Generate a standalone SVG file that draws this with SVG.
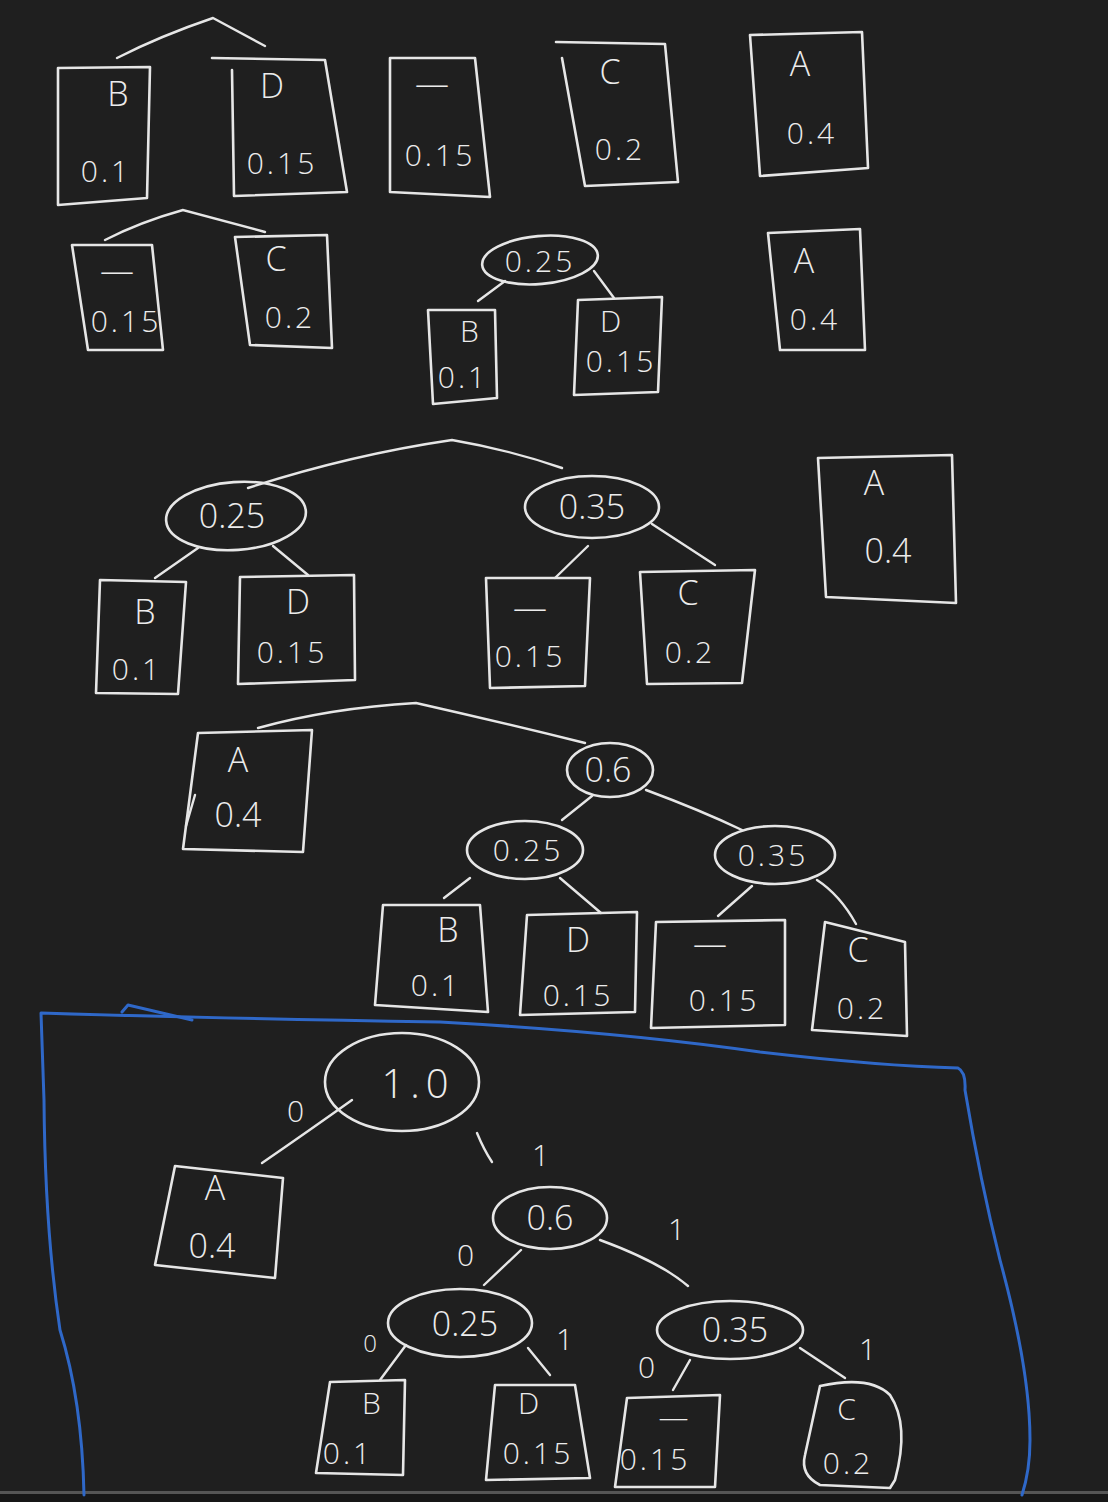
<svg xmlns="http://www.w3.org/2000/svg" width="1108" height="1502" viewBox="0 0 1108 1502">
<style>
.n{fill:none;stroke:#e6e6e6;stroke-width:2.6;stroke-linejoin:round;stroke-linecap:round}
.e{fill:none;stroke:#e6e6e6;stroke-width:2.4;stroke-linecap:round}
.t{fill:#ececec;font-family:"Open Sans","Liberation Sans",sans-serif;font-weight:300;font-size:34px;text-anchor:middle}
.s{font-size:30px;letter-spacing:3px}
.b{fill:none;stroke:#2f68c8;stroke-width:3;stroke-linecap:round;stroke-linejoin:round}
</style>
<rect width="1108" height="1502" fill="#1f1f1f"/>
<rect y="1491" width="1108" height="3" fill="#555"/>
<rect y="1494" width="1108" height="8" fill="#171717"/>

<g id="connectors">
<path class="e" d="M117 58 Q160 36 213 18 L265 46"/>
<path class="e" d="M105 240 Q140 222 183 210 L265 232"/>
<path class="e" d="M478 301 L505 281"/>
<path class="e" d="M594 271 L614 298"/>
<path class="e" d="M248 488 Q350 455 452 440 Q510 450 562 468"/>
<path class="e" d="M155 578 L198 548"/>
<path class="e" d="M273 546 L308 575"/>
<path class="e" d="M555 578 L588 546"/>
<path class="e" d="M652 524 L715 565"/>
<path class="e" d="M258 728 Q330 708 416 703 Q500 722 585 743"/>
<path class="e" d="M592 796 L562 820"/>
<path class="e" d="M646 790 Q700 810 742 830"/>
<path class="e" d="M470 878 L444 898"/>
<path class="e" d="M560 878 L601 913"/>
<path class="e" d="M752 886 L718 916"/>
<path class="e" d="M817 880 Q840 895 856 924"/>
<path class="e" d="M352 1100 Q310 1130 262 1163"/>
<path class="e" d="M477 1133 Q484 1150 492 1162"/>
<path class="e" d="M521 1250 L484 1285"/>
<path class="e" d="M600 1240 Q660 1262 688 1286"/>
<path class="e" d="M406 1345 L380 1380"/>
<path class="e" d="M528 1348 L550 1375"/>
<path class="e" d="M690 1360 L673 1390"/>
<path class="e" d="M800 1348 L845 1378"/>
</g>

<g id="blue-frame">
<path class="b" d="M84 1495 Q82 1400 60 1330 Q45 1230 44 1100 L41 1013 Q200 1018 440 1022 Q620 1032 760 1052 Q880 1066 958 1068 Q966 1072 965 1090 Q980 1180 1000 1260 Q1030 1370 1030 1440 Q1030 1470 1022 1495"/>
<path class="b" d="M122 1012 L128 1005 L192 1020"/>
</g>

<g id="row1-B"><path class="n" d="M58 68 L150 67 L147 198 L58 205 Z"/><text class="t" x="118" y="106">B</text><text class="t s" x="106" y="182">0.1</text></g>
<g id="row1-D"><path class="n" d="M212 58 L325 60 L347 192 L234 196 L232 70"/><text class="t" x="272" y="98">D</text><text class="t s" x="282" y="174">0.15</text></g>
<g id="row1-_"><path class="n" d="M390 58 L475 58 L490 197 L390 192 Z"/><text class="t" x="432" y="96">—</text><text class="t s" x="440" y="166">0.15</text></g>
<g id="row1-C"><path class="n" d="M556 42 L665 44 L678 182 L585 186 L562 58"/><text class="t" x="610" y="84">C</text><text class="t s" x="620" y="160">0.2</text></g>
<g id="row1-A"><path class="n" d="M750 35 L862 32 L868 168 L760 176 Z"/><text class="t" x="800" y="76">A</text><text class="t s" x="812" y="144">0.4</text></g>

<g id="row2-_"><path class="n" d="M72 245 L152 245 L163 350 L88 350 Z"/><text class="t" x="117" y="283">—</text><text class="t s" x="126" y="332">0.15</text></g>
<g id="row2-C"><path class="n" d="M235 237 L327 235 L332 348 L250 345 Z"/><text class="t" x="276" y="271">C</text><text class="t s" x="290" y="328">0.2</text></g>
<g id="row2-025"><ellipse class="n" cx="540" cy="260" rx="58" ry="24" transform="rotate(-5 540 260)"/><text class="t s" x="540" y="272">0.25</text></g>
<g id="row2-B"><path class="n" d="M428 310 L495 310 L497 398 L433 404 Z"/><text class="t s" x="471" y="342">B</text><text class="t s" x="463" y="388">0.1</text></g>
<g id="row2-D"><path class="n" d="M578 300 L662 297 L658 392 L574 395 Z"/><text class="t s" x="612" y="332">D</text><text class="t s" x="621" y="372">0.15</text></g>
<g id="row2-A"><path class="n" d="M768 233 L860 229 L865 350 L780 350 Z"/><text class="t" x="804" y="273">A</text><text class="t s" x="815" y="330">0.4</text></g>

<g id="row3-025"><ellipse class="n" cx="236" cy="516" rx="70" ry="34" transform="rotate(-4 236 516)"/><text class="t" x="232" y="528">0.25</text></g>
<g id="row3-035"><ellipse class="n" cx="592" cy="507" rx="67" ry="31"/><text class="t" x="592" y="519">0.35</text></g>
<g id="row3-A"><path class="n" d="M818 458 L952 455 L956 603 L826 597 Z"/><text class="t" x="874" y="495">A</text><text class="t" x="888" y="563">0.4</text></g>
<g id="row3-B"><path class="n" d="M100 580 L186 582 L178 694 L96 693 Z"/><text class="t" x="145" y="624">B</text><text class="t s" x="137" y="680">0.1</text></g>
<g id="row3-D"><path class="n" d="M240 577 L354 575 L355 680 L238 684 Z"/><text class="t" x="298" y="614">D</text><text class="t s" x="292" y="663">0.15</text></g>
<g id="row3-_"><path class="n" d="M486 578 L590 578 L585 686 L490 688 Z"/><text class="t" x="530" y="620">—</text><text class="t s" x="530" y="667">0.15</text></g>
<g id="row3-C"><path class="n" d="M640 572 L755 570 L742 683 L647 684 Z"/><text class="t" x="688" y="605">C</text><text class="t s" x="690" y="663">0.2</text></g>

<g id="row4-A"><path class="n" d="M198 733 L312 730 L303 852 L183 849 Z"/><path class="e" d="M195 795 L186 826"/><text class="t" x="238" y="772">A</text><text class="t" x="238" y="827">0.4</text></g>
<g id="row4-06"><ellipse class="n" cx="610" cy="770" rx="43" ry="27"/><text class="t" x="608" y="782">0.6</text></g>
<g id="row4-025"><ellipse class="n" cx="525" cy="850" rx="58" ry="29"/><text class="t s" x="528" y="861">0.25</text></g>
<g id="row4-035"><ellipse class="n" cx="775" cy="855" rx="60" ry="29"/><text class="t s" x="773" y="866">0.35</text></g>
<g id="row4-B"><path class="n" d="M383 905 L480 905 L488 1012 L375 1005 Z"/><text class="t" x="448" y="942">B</text><text class="t s" x="436" y="996">0.1</text></g>
<g id="row4-D"><path class="n" d="M527 915 L637 912 L635 1012 L520 1015 Z"/><text class="t" x="578" y="952">D</text><text class="t s" x="578" y="1006">0.15</text></g>
<g id="row4-_"><path class="n" d="M656 922 L785 920 L785 1025 L651 1028 Z"/><text class="t" x="710" y="956">—</text><text class="t s" x="724" y="1011">0.15</text></g>
<g id="row4-C"><path class="n" d="M825 922 L905 942 L907 1036 L812 1030 Z"/><text class="t" x="858" y="962">C</text><text class="t s" x="862" y="1019">0.2</text></g>

<g id="final-10"><ellipse class="n" cx="402" cy="1082" rx="77" ry="49"/><text class="t" x="418" y="1098" style="font-size:40px;letter-spacing:6px">1.0</text></g>
<g id="final-A"><path class="n" d="M175 1166 L283 1178 L275 1278 L155 1265 Z"/><text class="t" x="215" y="1200">A</text><text class="t" x="212" y="1258">0.4</text></g>
<g id="final-06"><ellipse class="n" cx="550" cy="1218" rx="57" ry="31"/><text class="t" x="550" y="1230">0.6</text></g>
<g id="final-025"><ellipse class="n" cx="460" cy="1323" rx="72" ry="34"/><text class="t" x="465" y="1336">0.25</text></g>
<g id="final-035"><ellipse class="n" cx="730" cy="1330" rx="73" ry="29"/><text class="t" x="735" y="1342">0.35</text></g>
<g id="final-B"><path class="n" d="M330 1382 L405 1380 L403 1475 L316 1473 Z"/><text class="t s" x="373" y="1414">B</text><text class="t s" x="348" y="1464">0.1</text></g>
<g id="final-D"><path class="n" d="M495 1385 L575 1385 L590 1478 L486 1480 Z"/><text class="t s" x="530" y="1414">D</text><text class="t s" x="538" y="1464">0.15</text></g>
<g id="final-_"><path class="n" d="M627 1398 L720 1395 L715 1487 L615 1487 Z"/><text class="t s" x="675" y="1428">—</text><text class="t s" x="655" y="1470">0.15</text></g>
<g id="final-C"><path class="n" d="M820 1386 Q870 1375 890 1395 Q910 1425 895 1480 L890 1488 L820 1485 Q800 1475 805 1455 Z"/><text class="t s" x="848" y="1420">C</text><text class="t s" x="848" y="1474">0.2</text></g>

<g id="edge-labels">
<text class="t s" x="297" y="1122">0</text>
<text class="t s" x="542" y="1166">1</text>
<text class="t s" x="678" y="1240">1</text>
<text class="t s" x="467" y="1266">0</text>
<text class="t" x="370" y="1352" style="font-size:24px">0</text>
<text class="t s" x="566" y="1350">1</text>
<text class="t s" x="648" y="1378">0</text>
<text class="t s" x="869" y="1360">1</text>
</g>
</svg>
